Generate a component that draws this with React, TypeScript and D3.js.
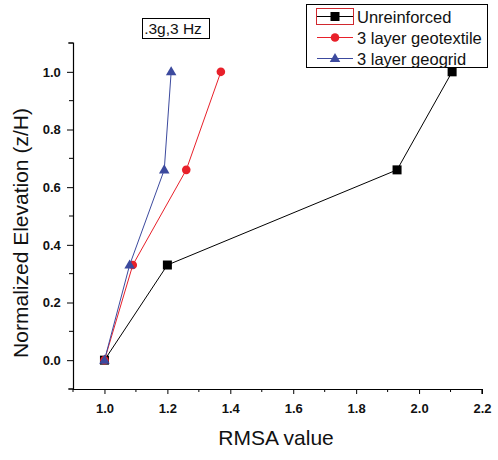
import { useEffect, useRef } from "react";
import * as d3 from "d3";

const heights = [0, 0.33, 0.66, 1.0];
const unreinforced = [1.0, 1.2, 1.93, 2.105];
const geotextile = [1.0, 1.09, 1.26, 1.37];
const geogrid = [1.0, 1.08, 1.19, 1.212];
const seriesNames = ["Unreinforced", "3 layer geotextile", "3 layer geogrid"];
const seriesColors = ["#000000", "#e8202a", "#3c4a9e"];
const xTicks = [1.0, 1.2, 1.4, 1.6, 1.8, 2.0, 2.2];
const yTicks = [0.0, 0.2, 0.4, 0.6, 0.8, 1.0];

export default function App() {
  const svgRef = useRef<SVGSVGElement>(null);

  useEffect(() => {
    if (!svgRef.current) return;
    const svg = d3.select(svgRef.current);
    svg.selectAll("*").remove();

    const width = 498;
    const height = 460;
    const x = d3.scaleLinear().domain([0.9, 2.2]).range([73, 482]);
    const y = d3.scaleLinear().domain([-0.1, 1.1]).range([389, 43]);
    const font = "Arial, 'Liberation Sans', sans-serif";

    svg.attr("viewBox", `0 0 ${width} ${height}`);
    svg.append("rect").attr("width", width).attr("height", height).attr("fill", "#fff");

    // axes
    const xAxis = d3
      .axisBottom(x)
      .tickValues(xTicks)
      .tickSize(5)
      .tickFormat((d) => d3.format(".1f")(d as number));
    const gx = svg.append("g").attr("transform", `translate(0,${y(-0.1)})`).call(xAxis);
    const yAxis = d3
      .axisLeft(y)
      .tickValues(yTicks)
      .tickSize(6)
      .tickFormat((d) => d3.format(".1f")(d as number));
    const gy = svg.append("g").attr("transform", `translate(${x(0.9)},0)`).call(yAxis);

    for (const g of [gx, gy]) {
      g.select(".domain").attr("stroke", "#000").attr("stroke-width", 1.2);
      g.selectAll(".tick line").attr("stroke", "#000");
      g.selectAll(".tick text")
        .attr("font-family", font)
        .attr("font-size", 13)
        .attr("font-weight", "bold")
        .attr("fill", "#111");
    }
    gx.selectAll(".tick text").attr("dy", "1.2em");
    gy.selectAll(".tick text").attr("dx", "-0.25em");
    gx.select(".domain").attr("d", `M${x(0.9)},0.5H${x(2.2)}V5`);
    gy.select(".domain").attr("d", `M-5,${y(1.1)}H0.5V${y(-0.1)}H-5`);

    // minor ticks
    const xMinor = d3.range(0.9, 2.25, 0.2);
    svg
      .append("g")
      .selectAll("line")
      .data(xMinor)
      .join("line")
      .attr("x1", (d) => x(d))
      .attr("x2", (d) => x(d))
      .attr("y1", y(-0.1))
      .attr("y2", y(-0.1) + 3)
      .attr("stroke", "#000");
    const yMinor = d3.range(-0.1, 1.15, 0.2);
    svg
      .append("g")
      .selectAll("line")
      .data(yMinor)
      .join("line")
      .attr("x1", x(0.9) - 4)
      .attr("x2", x(0.9))
      .attr("y1", (d) => y(d))
      .attr("y2", (d) => y(d))
      .attr("stroke", "#000");

    // axis titles
    svg
      .append("text")
      .attr("x", 276)
      .attr("y", 445)
      .attr("text-anchor", "middle")
      .attr("font-family", font)
      .attr("font-size", 21)
      .attr("fill", "#111")
      .text("RMSA value");
    svg
      .append("text")
      .attr("transform", `translate(28,233) rotate(-90)`)
      .attr("text-anchor", "middle")
      .attr("font-family", font)
      .attr("font-size", 21)
      .attr("fill", "#111")
      .text("Normalized Elevation (z/H)");

    // series
    const all = [unreinforced, geotextile, geogrid];
    const line = d3
      .line<number>()
      .x((d) => x(d))
      .y((_, i) => y(heights[i]));

    const drawMarker = (g: d3.Selection<SVGGElement, unknown, null, undefined>, k: number, cx: number, cy: number) => {
      const c = seriesColors[k];
      if (k === 0) {
        g.append("rect").attr("x", cx - 4.5).attr("y", cy - 4.5).attr("width", 9).attr("height", 9).attr("fill", c);
      } else if (k === 1) {
        g.append("circle").attr("cx", cx).attr("cy", cy).attr("r", 4.3).attr("fill", c);
      } else {
        const sym = d3.symbol().type(d3.symbolTriangle).size(48);
        g.append("path").attr("transform", `translate(${cx},${cy + 0.5})`).attr("d", sym()!).attr("fill", c);
      }
    };

    all.forEach((vals, k) => {
      const g = svg.append("g");
      g.append("path")
        .attr("d", line(vals)!)
        .attr("fill", "none")
        .attr("stroke", seriesColors[k])
        .attr("stroke-width", 1);
      vals.forEach((v, i) => drawMarker(g, k, x(v), y(heights[i])));
    });

    // title box
    const tg = svg.append("g");
    tg.append("rect").attr("x", 142.5).attr("y", 18.5).attr("width", 67).attr("height", 20).attr("fill", "#fff").attr("stroke", "#000");
    tg.append("text")
      .attr("x", 173)
      .attr("y", 34)
      .attr("text-anchor", "middle")
      .attr("font-family", font)
      .attr("font-size", 15.5)
      .attr("fill", "#111")
      .text(".3g,3 Hz");

    // legend
    const lg = svg.append("g");
    lg.append("rect").attr("x", 306.5).attr("y", 4.5).attr("width", 181).attr("height", 63).attr("fill", "#fff").attr("stroke", "#000");
    lg.append("rect").attr("x", 316.5).attr("y", 8.5).attr("width", 37).attr("height", 16).attr("fill", "none").attr("stroke", "#d0282e");
    seriesNames.forEach((name, k) => {
      const cy = 16.5 + k * 21;
      lg.append("line").attr("x1", 317).attr("x2", 353).attr("y1", cy).attr("y2", cy).attr("stroke", seriesColors[k]);
      drawMarker(lg, k, 335, cy);
      lg.append("text")
        .attr("x", 357)
        .attr("y", cy + 6)
        .attr("font-family", font)
        .attr("font-size", 16.5)
        .attr("fill", "#111")
        .text(name);
    });
  }, []);

  return (
    <svg
      ref={svgRef}
      width={498}
      height={460}
      style={{ position: "absolute", left: 0, top: 0, display: "block" }}
    />
  );
}
